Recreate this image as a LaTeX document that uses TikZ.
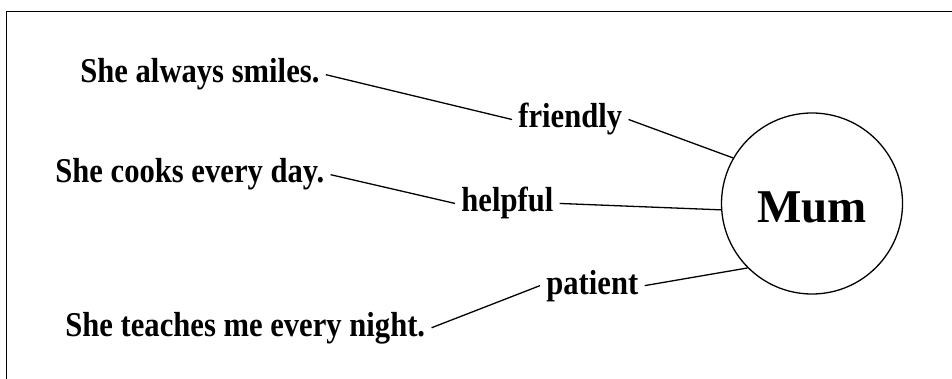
\documentclass[tikz,border=0pt]{standalone}
\usepackage{fontspec}
\setmainfont{Liberation Serif}
\newfontfamily\narrowserif[FakeStretch=0.88]{Liberation Serif}
\usetikzlibrary{positioning}

\begin{document}
\begin{tikzpicture}[x=0.5pt, y=-0.5pt,
        word/.style={font=\narrowserif\fontsize{17.4}{20}\selectfont\bfseries, inner sep=3pt, anchor=base west},
        link/.style={line width=.65pt}]
        \def\R{90.5}
        \useasboundingbox (0,0) rectangle (952,379);
        \clip (0,0) rectangle (952,379);
        \draw[line width=.75pt] (6.7,11.7) rectangle (990,420);
        \node[draw, circle, line width=.65pt, inner sep=0pt, minimum size=2*\R*0.5pt,
              text height=18.6pt, text depth=0pt, font=\fontsize{23.5}{28}\selectfont\bfseries] (mum) at (812,203.5) {Mum};
        % reasons on the left, traits in the middle
        \node[word] (s1) at (74,83) {She always smiles.};
        \node[word] (s2) at (49,183) {She cooks every day.};
        \node[word] (s3) at (59,336) {She teaches me every night.};
        \node[word] (friendly) at (512,128) {friendly};
        \node[word] (helpful) at (455,212) {helpful};
        \node[word] (patient) at (540,294) {patient};
        \foreach \reason/\trait/\ang in {s1/friendly/150, s2/helpful/184, s3/patient/225}{
            \draw[link] (\reason.east) -- (\trait.west);
            \draw[link] (\trait.east) -- (mum.\ang);
        }
    \end{tikzpicture}
\end{document}
